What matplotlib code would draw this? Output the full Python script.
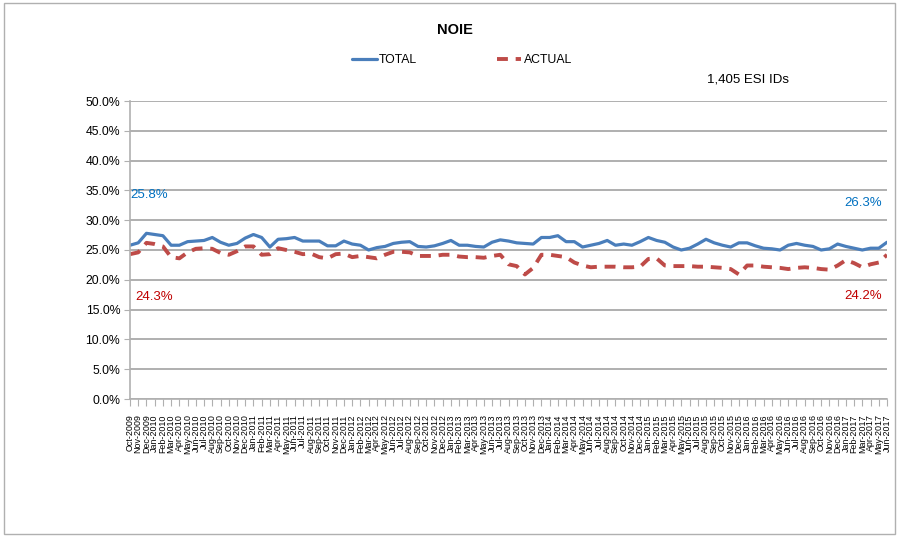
import matplotlib
matplotlib.use("Agg")
import matplotlib.pyplot as plt
import pandas as pd
from matplotlib import font_manager
from matplotlib.patches import Rectangle
from matplotlib.ticker import FuncFormatter, MultipleLocator

# monthly NOIE share, Oct-2009 .. Jun-2017
total = [
    25.8, 26.2, 27.8, 27.6, 27.4, 25.8, 25.8, 26.4, 26.5, 26.6, 27.1, 26.3,
    25.8, 26.1, 27.0, 27.6, 27.1, 25.5, 26.8, 26.9, 27.1, 26.5, 26.5, 26.5,
    25.7, 25.7, 26.5, 26.0, 25.8, 25.0, 25.4, 25.6, 26.1, 26.3, 26.4, 25.6,
    25.5, 25.7, 26.1, 26.6, 25.8, 25.8, 25.6, 25.5, 26.3, 26.7, 26.5, 26.2,
    26.1, 26.0, 27.1, 27.1, 27.4, 26.4, 26.4, 25.5, 25.8, 26.1, 26.6, 25.8,
    26.0, 25.8, 26.4, 27.1, 26.6, 26.3, 25.5, 25.0, 25.3, 26.0, 26.8, 26.2,
    25.8, 25.5, 26.2, 26.2, 25.7, 25.3, 25.2, 25.0, 25.8, 26.1, 25.8, 25.6,
    25.0, 25.2, 26.0, 25.6, 25.3, 25.0, 25.3, 25.3, 26.3,
]
actual = [
    24.3, 24.6, 26.2, 26.0, 25.6, 23.8, 23.6, 24.6, 25.2, 25.3, 25.2, 24.5,
    24.2, 24.8, 25.6, 25.6, 24.2, 24.3, 25.3, 25.0, 24.7, 24.3, 24.4, 23.8,
    23.6, 24.3, 24.4, 23.8, 24.0, 23.8, 23.6, 24.2, 24.7, 24.7, 24.6, 24.0,
    24.0, 24.0, 24.2, 24.2, 23.9, 23.8, 23.8, 23.7, 24.0, 24.2, 22.6, 22.3,
    20.9, 22.0, 24.2, 24.2, 24.0, 23.8, 22.9, 22.4, 22.1, 22.2, 22.2, 22.2,
    22.1, 22.1, 22.2, 23.5, 23.6, 22.4, 22.3, 22.3, 22.3, 22.2, 22.2, 22.1,
    22.0, 21.8, 20.9, 22.4, 22.4, 22.2, 22.1, 22.0, 21.8, 22.0, 22.1, 22.0,
    21.8, 21.7, 22.4, 23.3, 22.8, 22.1, 22.6, 22.9, 24.2,
]
months = pd.date_range("2009-10-01", periods=len(total), freq="MS").strftime("%b-%Y").tolist()

names = {f.name for f in font_manager.fontManager.ttflist}
narrow = "Liberation Sans Narrow" if "Liberation Sans Narrow" in names else "Liberation Sans"
plt.rcParams["font.family"] = [narrow, "DejaVu Sans"]

blue, red = "#4a7ebb", "#be4b48"
grid = "#9a9a9a"

fig = plt.figure(figsize=(8.99, 5.39), dpi=100)
fig.patches.append(Rectangle((0.004, 0.01), 0.992, 0.985, transform=fig.transFigure,
                             fill=False, edgecolor="#b0b0b0", lw=1))
ax = fig.add_axes([130 / 899, 1 - 399 / 539, 757 / 899, 298 / 539])

x = list(range(len(total)))
ax.plot(x, total, color=blue, lw=2.3, label="TOTAL", solid_capstyle="round")
ax.plot(x, actual, color=red, lw=2.8, ls=(0, (2.8, 2.0)), label="ACTUAL")

ax.set_xlim(0, len(total) - 1)
ax.set_ylim(0, 50)
ax.yaxis.set_major_locator(MultipleLocator(5))
ax.yaxis.set_major_formatter(FuncFormatter(lambda v, p: f"{v:.1f}%"))
ax.grid(axis="y", color=grid, lw=1.1)
ax.set_axisbelow(True)

ax.set_xticks(x)
ax.set_xticklabels(months, rotation=90, fontsize=6.4)
ax.tick_params(axis="x", length=5, color="#b0b0b0", pad=6)
ax.tick_params(axis="y", length=4, color="#b0b0b0", labelsize=8.8, pad=3)
for s in ["top", "right"]:
    ax.spines[s].set_visible(False)
for s in ["left", "bottom"]:
    ax.spines[s].set_color("#b0b0b0")
    ax.spines[s].set_linewidth(1.2)

# first / last value callouts
ax.annotate(f"{total[0]:.1f}%", (0, total[0]), xytext=(0, 36), textcoords="offset points",
            color="#0070c0", fontsize=9.5, ha="left", va="center")
ax.annotate(f"{actual[0]:.1f}%", (0, actual[0]), xytext=(4, -31), textcoords="offset points",
            color="#c00000", fontsize=9.5, ha="left", va="center")
ax.annotate(f"{total[-1]:.1f}%", (x[-1], total[-1]), xytext=(-4, 28), textcoords="offset points",
            color="#0070c0", fontsize=9.5, ha="right", va="center")
ax.annotate(f"{actual[-1]:.1f}%", (x[-1], actual[-1]), xytext=(-4, -30), textcoords="offset points",
            color="#c00000", fontsize=9.5, ha="right", va="center")

fig.text(455 / 899, 1 - 30 / 539, "NOIE", ha="center", va="center", fontsize=10.5, fontweight="bold")
fig.text(748 / 899, 1 - 80 / 539, "1,405 ESI IDs", ha="center", va="center", fontsize=9.5)
fig.legend(loc="center", bbox_to_anchor=(462 / 899, 1 - 60 / 539), ncol=2, frameon=False,
           fontsize=8.8, handlelength=2.0, columnspacing=6.5, handletextpad=0.2)

fig.savefig("out.png", dpi=100)
